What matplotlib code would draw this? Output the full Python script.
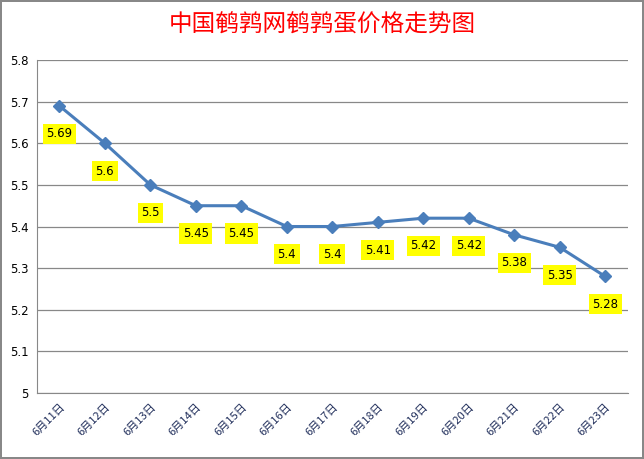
import matplotlib
matplotlib.use('Agg')
import matplotlib.pyplot as plt

plt.rcParams['font.family'] = ['Noto Sans CJK SC', 'DejaVu Sans']

# Price data
dates = ['6月11日', '6月12日', '6月13日', '6月14日', '6月15日', '6月16日', '6月17日',
         '6月18日', '6月19日', '6月20日', '6月21日', '6月22日', '6月23日']
prices = [5.69, 5.6, 5.5, 5.45, 5.45, 5.4, 5.4, 5.41, 5.42, 5.42, 5.38, 5.35, 5.28]
yticks = [5, 5.1, 5.2, 5.3, 5.4, 5.5, 5.6, 5.7, 5.8]

fig = plt.figure(figsize=(6.44, 4.59), dpi=100)
fig.patch.set_edgecolor('#888888')
fig.patch.set_linewidth(1.5)
ax = fig.add_axes([0.057, 0.144, 0.918, 0.725])

x = list(range(len(dates)))
ax.plot(x, prices, color='#4a7ebb', lw=2.2, marker='D', ms=6, zorder=3)
for xi, p in zip(x, prices):
    ax.annotate(f'{p:g}', (xi, p), xytext=(0, -20), textcoords='offset points',
                ha='center', va='center', fontsize=8.5, family='DejaVu Sans',
                bbox=dict(boxstyle='square,pad=0.3', fc='#ffff00', ec='none'), zorder=4)

ax.set_xlim(-0.5, len(dates) - 0.5)
ax.set_ylim(5, 5.8)
ax.set_yticks(yticks)
ax.set_yticklabels([f'{v:g}' for v in yticks], fontsize=8.5, family='DejaVu Sans')
ax.set_xticks(x)
ax.set_xticklabels(dates, rotation=45, ha='right', rotation_mode='anchor',
                   fontsize=8, color='#1f2d5a')
ax.tick_params(length=0, pad=6)
ax.grid(axis='y', color='#888888', lw=0.9)
for s in ['top', 'right']:
    ax.spines[s].set_visible(False)
ax.spines['left'].set_color('#888888')
ax.spines['bottom'].set_color('#888888')
ax.set_axisbelow(True)

fig.text(0.5, 0.945, '中国鹌鹑网鹌鹑蛋价格走势图', ha='center', va='center',
         fontsize=17, color='#ff0000')

fig.savefig('out.png', dpi=100, edgecolor=fig.get_edgecolor())
